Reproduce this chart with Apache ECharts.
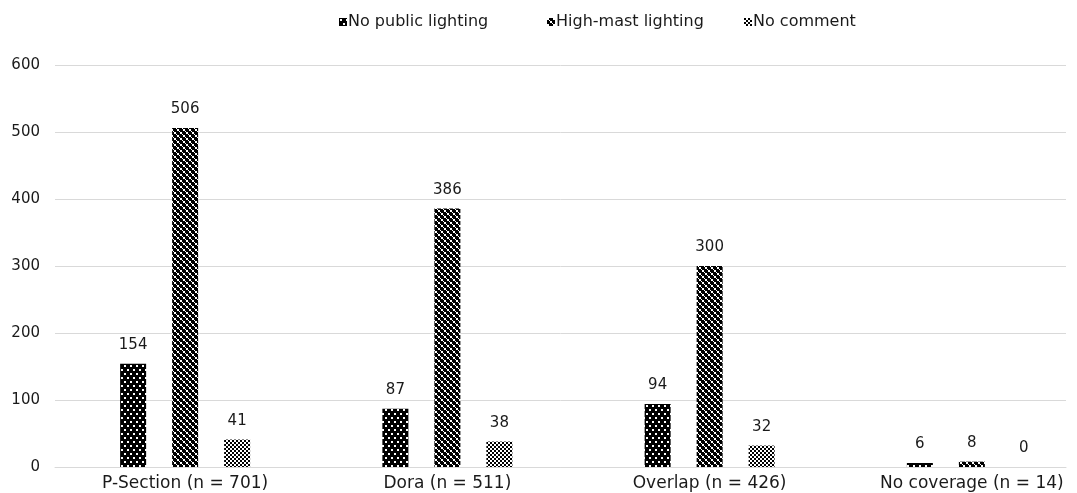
<!DOCTYPE html>
<html>
<head>
<meta charset="utf-8">
<script src="https://cdn.jsdelivr.net/npm/echarts@6/dist/echarts.min.js"></script>
<style>html,body{margin:0;padding:0;background:#fff}#c{width:1077px;height:493px}</style>
</head>
<body>
<div id="c"></div>
<script>
var categories = ['P-Section (n = 701)', 'Dora (n = 511)', 'Overlap (n = 426)', 'No coverage (n = 14)'];
var seriesNames = ['No public lighting', 'High-mast lighting', 'No comment'];
var noPublicLighting = [154, 87, 94, 6];
var highMastLighting = [506, 386, 300, 8];
var noComment = [41, 38, 32, 0];
var yTicks = [0, 100, 200, 300, 400, 500, 600];

function makePattern(w, h, draw) {
  var c = document.createElement('canvas');
  c.width = w; c.height = h;
  var ctx = c.getContext('2d');
  draw(ctx);
  return { image: c, repeat: 'repeat' };
}
// dotted: black with white dots
var pat1 = makePattern(6, 8, function (ctx) {
  ctx.fillStyle = '#000'; ctx.fillRect(0, 0, 6, 8);
  ctx.fillStyle = '#fff';
  ctx.fillRect(1, 1, 2, 2);
  ctx.fillRect(4, 5, 2, 2);
});
// large checker (black lattice with white squares)
var pat2 = makePattern(6, 6, function (ctx) {
  ctx.fillStyle = '#000'; ctx.fillRect(0, 0, 6, 6);
  ctx.fillStyle = '#fff';
  ctx.fillRect(0, 0, 2, 2);
  ctx.fillRect(3, 3, 2, 2);
  ctx.fillRect(2, 2, 1, 1);
  ctx.fillRect(5, 5, 1, 1);
});
// small checker
var pat3 = makePattern(4, 4, function (ctx) {
  ctx.fillStyle = '#fff'; ctx.fillRect(0, 0, 4, 4);
  ctx.fillStyle = '#000';
  ctx.fillRect(0, 0, 2, 2);
  ctx.fillRect(2, 2, 2, 2);
});

var FONT = 'DejaVu Sans';
var TXT = '#1a1a1a';
var chart = echarts.init(document.getElementById('c'), null, { renderer: 'canvas' });

function barSeries(name, data, pat) {
  return {
    name: name, type: 'bar', data: data,
    xAxisIndex: 0, yAxisIndex: 0,
    barWidth: 26, barGap: '100%',
    itemStyle: { color: pat },
    label: { show: true, position: 'top', distance: 11, color: TXT, fontSize: 15, fontFamily: FONT },
    emphasis: { disabled: true },
    animation: false
  };
}
function legendAt(left, name) {
  return {
    top: 9, left: left,
    itemWidth: 8, itemHeight: 8, icon: 'rect',
    textStyle: { fontFamily: FONT, fontSize: 16, color: TXT, padding: [0, 0, 0, -4] },
    data: [name]
  };
}

chart.setOption({
  animation: false,
  backgroundColor: '#fff',
  legend: [
    legendAt(334, seriesNames[0]),
    legendAt(542, seriesNames[1]),
    legendAt(739, seriesNames[2])
  ],
  grid: [
    { left: 54, width: 1049, top: 65, bottom: 26, containLabel: false, outerBoundsMode: 'none' },
    { left: 55, right: 11, top: 65, bottom: 26, containLabel: false, outerBoundsMode: 'none' }
  ],
  xAxis: [
    { type: 'category', gridIndex: 0, data: categories,
      axisLine: { show: false }, axisTick: { show: false },
      axisLabel: { fontFamily: FONT, fontSize: 17, color: TXT, margin: 8 } },
    { type: 'category', gridIndex: 1, data: categories,
      axisLine: { show: true, lineStyle: { color: '#d9d9d9', width: 1 } }, axisTick: { show: false },
      axisLabel: { show: false } }
  ],
  yAxis: [
    { type: 'value', gridIndex: 0, min: 0, max: 600, interval: 100, show: false, splitLine: { show: false } },
    { type: 'value', gridIndex: 1, min: 0, max: 600, interval: 100,
      axisLine: { show: false }, axisTick: { show: false },
      axisLabel: { fontFamily: FONT, fontSize: 15, color: TXT, margin: 15,
        formatter: function (v) { return yTicks.indexOf(v) >= 0 ? String(v) : ''; } },
      splitLine: { lineStyle: { color: '#d9d9d9', width: 1 } } }
  ],
  series: [
    barSeries(seriesNames[0], noPublicLighting, pat1),
    barSeries(seriesNames[1], highMastLighting, pat2),
    barSeries(seriesNames[2], noComment, pat3)
  ]
});
</script>
</body>
</html>
